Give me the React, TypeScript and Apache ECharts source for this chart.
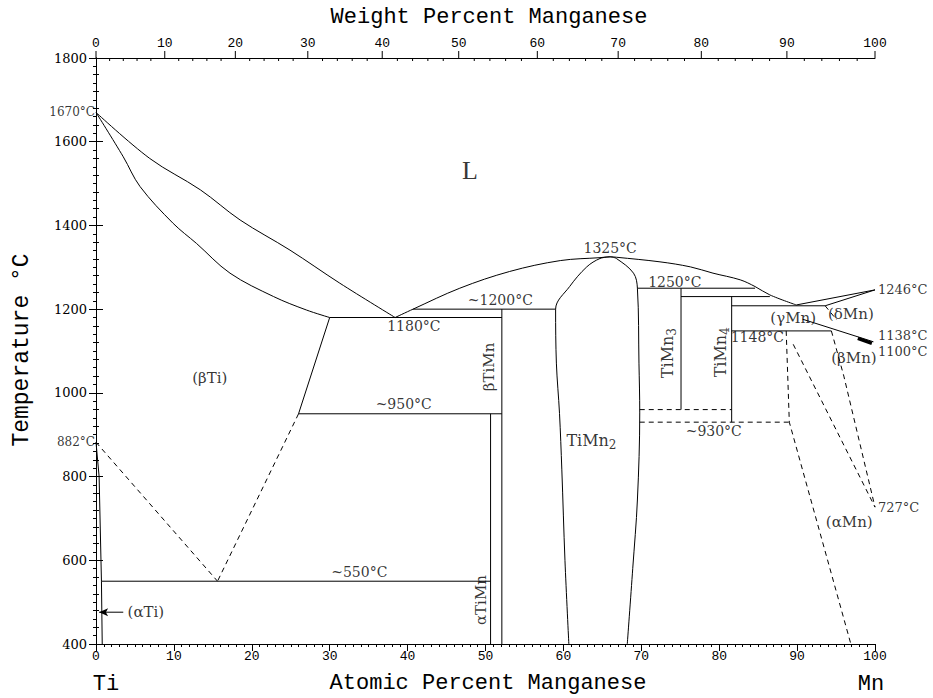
import React, { useEffect, useRef } from "react";
import * as echarts from "echarts";

// ---------- data ----------
const atomicTicks = [0, 10, 20, 30, 40, 50, 60, 70, 80, 90, 100];
const weightTicks = [0, 10, 20, 30, 40, 50, 60, 70, 80, 90, 100];
const weightMinorTicks = [2, 4, 6, 8, 12, 14, 16, 18, 22, 24, 26, 28, 32, 34, 36, 38, 42, 44, 46, 48, 52, 54, 56, 58, 62, 64, 66, 68, 72, 74, 76, 78, 82, 84, 86, 88, 92, 94, 96, 98];
const tempTicks = [400, 600, 800, 1000, 1200, 1400, 1600, 1800];

const liquidusTi = [[0, 1670], [6.9, 1560], [13.4, 1485], [18.5, 1413], [24.9, 1341], [31.3, 1262], [38.4, 1180]];
const solidusBetaTi = [[0, 1670], [3.5, 1564], [5.65, 1493], [9.9, 1405], [12.9, 1357], [17.2, 1286], [22.8, 1230], [27, 1198], [30, 1180]];
const liquidusMid = [[38.4, 1180], [40.7, 1200], [46.7, 1250], [53.1, 1290], [59.6, 1316], [64.7, 1323], [66, 1325], [66.8, 1324], [72.4, 1313], [76.3, 1301], [79.2, 1286], [82.7, 1270], [84.6, 1254], [86.5, 1234], [89.9, 1210]];
const liquidusDeltaMn = [[89.9, 1210], [100, 1246]];
const solidusDeltaMn = [[93.6, 1208], [100, 1246]];
const betaTiSolvus = [[30, 1180], [26, 950]];
const betaTiSolvusDashed = [[26, 950], [15.6, 550]];
const alphaTiTransus = [[0, 882], [15.6, 550]];
const alphaTiSolvus = [[0, 882], [0.4, 800], [0.7, 550], [0.8, 400]];
const eutectic1180 = [[30, 1180], [52.1, 1180]];
const peritectic1200 = [[40.7, 1200], [59, 1200]];
const eutectoid950 = [[26, 950], [52.1, 950]];
const eutectoid550 = [[0.7, 550], [50.65, 550]];
const betaTiMnLine = [[52.1, 1200], [52.1, 400]];
const alphaTiMnLine = [[50.65, 950], [50.65, 400]];
const tiMn2Left = [[66, 1325], [64.7, 1321], [63, 1301], [60.8, 1254], [59, 1200], [59.1, 1071], [59.5, 951], [59.8, 816], [60.2, 600], [60.7, 400]];
const tiMn2Right = [[66, 1325], [66.8, 1321], [69, 1286], [69.5, 1250], [69.7, 1071], [69.8, 952], [69.5, 744], [68.9, 580], [68.2, 400]];
const peritectic1250 = [[69.5, 1250], [84.6, 1250]];
const tiMn3Line = [[75.1, 1250], [75.1, 960]];
const peritectic1230 = [[75.1, 1230], [86.5, 1230]];
const tiMn4Line = [[81.6, 1230], [81.6, 930]];
const eutectic1208 = [[81.6, 1208], [93.6, 1208]];
const eutectoid1148 = [[81.6, 1148], [94.4, 1148]];
const eutectoid960 = [[69.8, 960], [81.6, 960]];
const eutectoid930 = [[69.8, 930], [89, 930]];
const gammaDeltaBoundary = [[90.7, 1176], [99.8, 1122]];
const deltaGammaSolvus = [[93.6, 1208], [95.1, 1174]];
const gammaBetaSolvus = [[88.6, 1148], [89, 930], [96.9, 400]];
const betaMnLeft = [[89.5, 1116], [100, 727]];
const betaMnRight = [[94.4, 1148], [96, 1040], [100, 727]];
const twoPhaseSliver = [[97.8, 1130], [99.6, 1118]];
const alphaTiArrow = [[3.5, 476], [0.4, 476]];

const smoothLines = [liquidusTi, solidusBetaTi, liquidusMid, tiMn2Left, tiMn2Right];
const solidLines = [liquidusDeltaMn, solidusDeltaMn, betaTiSolvus, alphaTiSolvus,
  eutectic1180, peritectic1200, eutectoid950, eutectoid550, betaTiMnLine, alphaTiMnLine,
  peritectic1250, tiMn3Line, peritectic1230, tiMn4Line, eutectic1208, eutectoid1148, gammaDeltaBoundary];
const dashedLines = [betaTiSolvusDashed, alphaTiTransus, eutectoid960, eutectoid930, deltaGammaSolvus, gammaBetaSolvus, betaMnLeft, betaMnRight];

// annotation texts anchored at [at.% Mn, °C]
const phaseLabels = [
  { t: "L", p: [48.0, 1532], k: "big" },
  { t: "(βTi)", p: [14.6, 1036], k: "phase" },
  { t: "1180°C", p: [40.8, 1160] },
  { t: "~1200°C", p: [51.9, 1222] },
  { t: "1325°C", p: [66.0, 1346] },
  { t: "1250°C", p: [74.3, 1265] },
  { t: "~950°C", p: [39.5, 973] },
  { t: "~550°C", p: [33.8, 572] },
  { t: "~930°C", p: [79.3, 909] },
  { t: "1148°C", p: [84.9, 1133] },
  { t: "(γMn)", p: [89.5, 1179], k: "phase" },
  { t: "(δMn)", p: [96.9, 1188], k: "phase" },
  { t: "(βMn)", p: [97.3, 1083], k: "phase" },
  { t: "(αMn)", p: [96.7, 692], k: "phase" },
  { t: "(αTi)", p: [6.4, 477], k: "phase" },
  { t: "βTiMn", p: [50.4, 1062], r: 90, k: "phase" },
  { t: "αTiMn", p: [49.4, 505], r: 90, k: "phase" },
  { t: "{n|TiMn}{s|2}", p: [63.6, 887] },
  { t: "{n|TiMn}{s|3}", p: [73.4, 1095], r: 90 },
  { t: "{n|TiMn}{s|4}", p: [80.2, 1097], r: 90 },
];
const edgeLabelsLeft = [{ t: "1670°C", p: [0, 1670] }, { t: "882°C", p: [0, 882] }];
const edgeLabelsRight = [{ t: "1246°C", p: [100, 1246] }, { t: "1138°C", p: [100, 1138] }, { t: "1100°C", p: [100, 1100] }, { t: "727°C", p: [100, 727] }];

const M_TI = 47.867;
const M_MN = 54.938;
function wtToAt(w: number) {
  if (w >= 100) return 100;
  const a = w / M_MN;
  const b = (100 - w) / M_TI;
  return (100 * a) / (a + b);
}

const SERIF = "DejaVu Serif";
const MONO = "Liberation Mono";

export default function App() {
  const ref = useRef<HTMLDivElement>(null);
  useEffect(() => {
    if (!ref.current) return;
    const chart = echarts.init(ref.current, undefined, { renderer: "svg" });
    const rich = {
      n: { fontFamily: SERIF, fontSize: 16, color: "#000" },
      s: { fontFamily: SERIF, fontSize: 12, color: "#000", padding: [9, 0, 0, 0] },
    };
    const series: any[] = [];
    smoothLines.forEach((d) =>
      series.push({ type: "line", data: d, symbol: "none", smooth: 0.35, silent: true, lineStyle: { color: "#000", width: 1 }, z: 3 })
    );
    solidLines.forEach((d) =>
      series.push({ type: "line", data: d, symbol: "none", silent: true, lineStyle: { color: "#000", width: 1 }, z: 3 })
    );
    dashedLines.forEach((d) =>
      series.push({ type: "line", data: d, symbol: "none", silent: true, lineStyle: { color: "#000", width: 1, type: [5, 4] }, z: 3 })
    );
    series.push({ type: "line", data: twoPhaseSliver, symbol: "none", silent: true, lineStyle: { color: "#000", width: 3.5 }, z: 3 });
    // arrow for (αTi)
    series.push({
      type: "line",
      silent: true,
      data: [{ value: alphaTiArrow[0], symbol: "none" }, { value: alphaTiArrow[1], symbol: "arrow", symbolSize: [6, 9], symbolRotate: 90 }],
      showSymbol: true,
      itemStyle: { color: "#000" },
      lineStyle: { color: "#000", width: 1 },
      z: 4,
    });
    series.push({
      type: "scatter",
      silent: true,
      symbolSize: 0,
      z: 5,
      data: phaseLabels.map((l) => ({
        value: l.p,
        label: {
          show: true,
          position: "inside",
          formatter: l.t,
          rotate: l.r || 0,
          fontFamily: l.k === "big" ? "Liberation Serif" : SERIF,
          fontSize: l.k === "big" ? 26 : l.k === "phase" ? 15 : 14,
          color: "#000",
          rich,
        },
      })),
    });
    series.push({
      type: "scatter",
      silent: true,
      symbolSize: 0,
      z: 5,
      data: edgeLabelsLeft.map((l) => ({
        value: l.p,
        label: { show: true, position: "left", distance: 1, formatter: l.t, fontFamily: SERIF, fontSize: 12, color: "#000" },
      })),
    });
    series.push({
      type: "scatter",
      silent: true,
      symbolSize: 0,
      z: 5,
      data: edgeLabelsRight.map((l) => ({
        value: l.p,
        label: { show: true, position: "right", distance: 3, formatter: l.t, fontFamily: SERIF, fontSize: 13, color: "#000" },
      })),
    });
    // top weight-percent axis ticks
    series.push({
      type: "custom",
      xAxisIndex: 1,
      yAxisIndex: 0,
      silent: true,
      clip: false,
      data: weightTicks.map((w) => [wtToAt(w), 1800, w]),
      renderItem: (params: any, api: any) => {
        const p = api.coord([api.value(0), api.value(1)]);
        return {
          type: "group",
          children: [
            { type: "line", shape: { x1: p[0], y1: p[1], x2: p[0], y2: p[1] - 7 }, style: { stroke: "#000", lineWidth: 1 } },
            {
              type: "text",
              x: p[0],
              y: p[1] - 8,
              style: { text: String(api.value(2)), align: "center", verticalAlign: "bottom", fontSize: 13, fontFamily: MONO, fill: "#000" },
            },
          ],
        };
      },
    });
    series.push({
      type: "custom",
      xAxisIndex: 1,
      yAxisIndex: 0,
      silent: true,
      clip: false,
      data: weightMinorTicks.map((w) => [wtToAt(w), 1800]),
      renderItem: (params: any, api: any) => {
        const p = api.coord([api.value(0), api.value(1)]);
        return { type: "line", shape: { x1: p[0], y1: p[1], x2: p[0], y2: p[1] + 3 }, style: { stroke: "#000", lineWidth: 1 } };
      },
    });

    const axisLine = { show: true, lineStyle: { color: "#000", width: 1 } };
    chart.setOption({
      animation: false,
      backgroundColor: "#fff",
      grid: { left: 96, right: 58, top: 58, bottom: 54 },
      xAxis: [
        {
          type: "value",
          min: 0,
          max: 100,
          interval: 10,
          position: "bottom",
          axisLine,
          axisTick: { show: true, length: 7, lineStyle: { color: "#000" } },
          minorTick: { show: true, splitNumber: 10, length: 3, lineStyle: { color: "#000" } },
          splitLine: { show: false },
          axisLabel: {
            margin: 6,
            fontFamily: MONO,
            fontSize: 13,
            color: "#000",
            formatter: (v: number) => (atomicTicks.includes(v) ? String(v) : ""),
          },
        },
        {
          type: "value",
          min: 0,
          max: 100,
          position: "top",
          axisLine,
          axisTick: { show: false },
          axisLabel: { show: false },
          splitLine: { show: false },
        },
      ],
      yAxis: [
        {
          type: "value",
          min: 400,
          max: 1800,
          interval: 200,
          position: "left",
          axisLine,
          axisTick: { show: true, length: 7, lineStyle: { color: "#000" } },
          minorTick: { show: true, splitNumber: 10, length: 3, lineStyle: { color: "#000" } },
          splitLine: { show: false },
          axisLabel: {
            margin: 9,
            fontFamily: SERIF,
            fontSize: 13,
            color: "#000",
            formatter: (v: number) => (tempTicks.includes(v) ? String(v) : ""),
          },
        },
        {
          type: "value",
          min: 400,
          max: 1800,
          interval: 200,
          position: "right",
          axisLine,
          axisTick: { show: true, length: 7, lineStyle: { color: "#000" } },
          minorTick: { show: true, splitNumber: 5, length: 3, lineStyle: { color: "#000" } },
          splitLine: { show: false },
          axisLabel: { show: false },
        },
      ],
      graphic: [
        { type: "text", x: 489, y: 17, style: { text: "Weight Percent Manganese", align: "center", verticalAlign: "middle", fontFamily: MONO, fontSize: 22, fill: "#000" }, silent: true },
        { type: "text", x: 488, y: 683, style: { text: "Atomic Percent Manganese", align: "center", verticalAlign: "middle", fontFamily: MONO, fontSize: 22, fill: "#000" }, silent: true },
        { type: "text", x: 106, y: 684, style: { text: "Ti", align: "center", verticalAlign: "middle", fontFamily: MONO, fontSize: 22, fill: "#000" }, silent: true },
        { type: "text", x: 871, y: 684, style: { text: "Mn", align: "center", verticalAlign: "middle", fontFamily: MONO, fontSize: 22, fill: "#000" }, silent: true },
        { type: "text", x: 22, y: 350, rotation: Math.PI / 2, style: { text: "Temperature °C", align: "center", verticalAlign: "middle", fontFamily: MONO, fontSize: 23, fill: "#000" }, silent: true },
      ],
      series,
    });
    return () => chart.dispose();
  }, []);
  return <div ref={ref} style={{ position: "fixed", left: 0, top: 0, width: 933, height: 698, background: "#fff" }} />;
}
